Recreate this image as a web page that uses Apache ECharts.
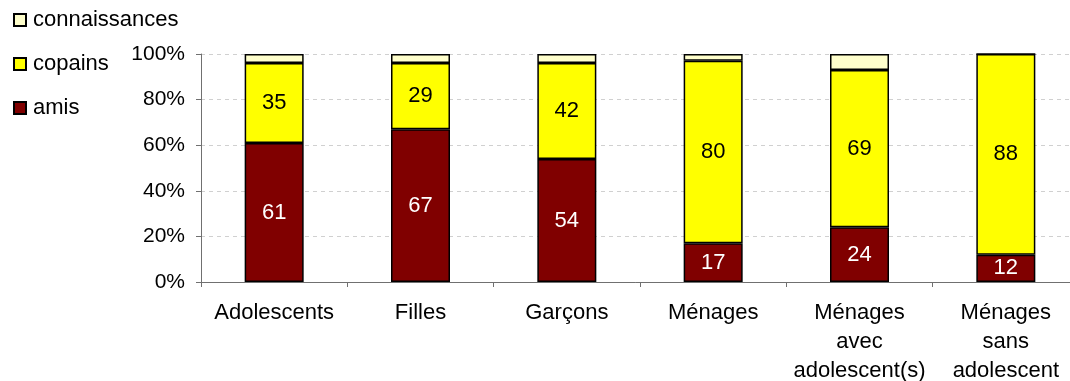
<!DOCTYPE html>
<html>
<head>
<meta charset="utf-8">
<script src="https://cdn.jsdelivr.net/npm/echarts@6/dist/echarts.min.js"></script>
<style>
  html, body { margin: 0; padding: 0; background: #fff; overflow: hidden; }
  #chart { width: 1070px; height: 381px; }
</style>
</head>
<body>
<div id="chart"></div>
<script>
// Répartition des relations (en %) par groupe
const categories = ['Adolescents', 'Filles', 'Garçons', 'Ménages', 'Ménages\navec\nadolescent(s)', 'Ménages\nsans\nadolescent'];
const amis = [61, 67, 54, 17, 24, 12];
const copains = [35, 29, 42, 80, 69, 88];
const connaissances = [4, 4, 4, 3, 7, 0];
const yTicks = [0, 20, 40, 60, 80, 100];

const FONT = '"Liberation Sans", Arial, sans-serif';
const border = { borderColor: '#000', borderWidth: 1.5 };

const chart = echarts.init(document.getElementById('chart'), null, { renderer: 'canvas' });
chart.setOption({
  animation: false,
  textStyle: { fontFamily: FONT },
  legend: {
    orient: 'vertical',
    left: 8,
    top: 4,
    itemWidth: 12,
    itemHeight: 12,
    itemGap: 22,
    icon: 'rect',
    data: ['connaissances', 'copains', 'amis'],
    textStyle: { fontFamily: FONT, fontSize: 22, color: '#000', padding: [0, 0, 0, 2] }
  },
  grid: { left: 201, top: 54, height: 228, width: 878, outerBoundsMode: 'none', containLabel: false },
  xAxis: {
    type: 'category',
    data: categories,
    axisLine: { lineStyle: { color: '#707070', width: 1 } },
    axisTick: { show: true, length: 5, lineStyle: { color: '#707070' } },
    axisLabel: { fontFamily: FONT, fontSize: 22, color: '#000', margin: 16, lineHeight: 29, interval: 0 }
  },
  yAxis: {
    type: 'value',
    min: yTicks[0],
    max: yTicks[yTicks.length - 1],
    interval: yTicks[1] - yTicks[0],
    axisLine: { show: true, lineStyle: { color: '#707070', width: 1 } },
    axisTick: { show: true, length: 5, lineStyle: { color: '#707070' } },
    axisLabel: { fontFamily: FONT, fontSize: 21, color: '#000', margin: 16, formatter: '{value}%' },
    splitLine: { show: true, lineStyle: { color: '#d0d0d0', type: [4, 4], width: 1 } }
  },
  series: [
    {
      name: 'amis', type: 'bar', stack: 'total', data: amis, barWidth: 59,
      itemStyle: Object.assign({ color: '#800000' }, border),
      label: { show: true, position: 'inside', color: '#fff', fontFamily: FONT, fontSize: 22 }
    },
    {
      name: 'copains', type: 'bar', stack: 'total', data: copains, barWidth: 59,
      itemStyle: Object.assign({ color: '#ffff00' }, border),
      label: { show: true, position: 'inside', color: '#000', fontFamily: FONT, fontSize: 22 }
    },
    {
      name: 'connaissances', type: 'bar', stack: 'total', data: connaissances, barWidth: 59,
      itemStyle: Object.assign({ color: '#ffffcc' }, border),
      label: { show: false }
    }
  ]
});
</script>
</body>
</html>
